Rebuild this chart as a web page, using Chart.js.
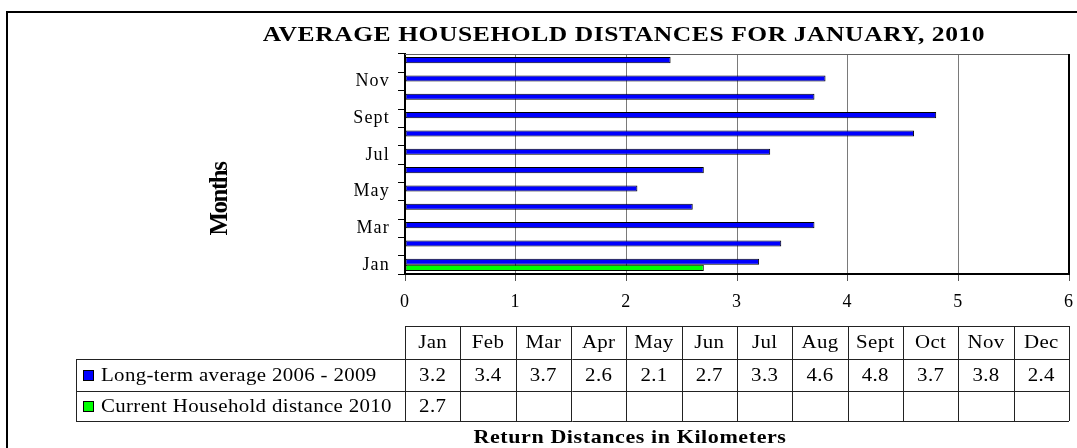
<!DOCTYPE html>
<html>
<head>
<meta charset="utf-8">
<title>Average household distances for January, 2010</title>
<script src="https://cdn.jsdelivr.net/npm/chart.js@4/dist/chart.umd.min.js"></script>
<style>
  html, body { margin: 0; padding: 0; background: #fff; }
  #wrap { width: 1077px; height: 448px; }
</style>
</head>
<body>
<div id="wrap"><canvas id="distChart" width="1077" height="448"></canvas></div>
<script>
// data
var months = ["Jan", "Feb", "Mar", "Apr", "May", "Jun", "Jul", "Aug", "Sept", "Oct", "Nov", "Dec"];
var longTerm = [3.2, 3.4, 3.7, 2.6, 2.1, 2.7, 3.3, 4.6, 4.8, 3.7, 3.8, 2.4];
var current2010 = [2.7, null, null, null, null, null, null, null, null, null, null, null];
var seriesNames = ["Long-term average 2006 - 2009", "Current Household distance 2010"];
var seriesColors = ["#0000ff", "#00ff00"];
var xMin = 0, xMax = 6, xStep = 1;

var chartTitle = "AVERAGE HOUSEHOLD DISTANCES FOR JANUARY, 2010";
var yTitle = "Months";
var xTitle = "Return Distances in Kilometers";

var SERIF = "'Liberation Serif', 'Times New Roman', serif";
var STRETCH = 1.16; // the original text is drawn a bit wide

// text drawn slightly stretched sideways, like the source picture
function wideText(ctx, txt, x, y, spacing) {
  ctx.save();
  ctx.letterSpacing = spacing + "px";
  var w = ctx.measureText(txt).width * STRETCH;
  var left = x;
  if (ctx.textAlign === "center") left = x - w / 2;
  else if (ctx.textAlign === "right") left = x - w;
  ctx.translate(left, y);
  ctx.scale(STRETCH, 1);
  ctx.textAlign = "left";
  ctx.fillText(txt, 0, 0);
  ctx.restore();
}

// frame, titles and the data table under the plot
var decorPlugin = {
  id: "decor",
  beforeDraw: function (chart) {
    chart.ctx.letterSpacing = "1.2px";
  },
  afterDraw: function (chart) {
    var ctx = chart.ctx;
    var area = chart.chartArea;
    ctx.save();
    ctx.letterSpacing = "0px";

    // outer frame
    ctx.strokeStyle = "#000";
    ctx.lineWidth = 2;
    ctx.beginPath();
    ctx.moveTo(7, 448);
    ctx.lineTo(7, 12);
    ctx.lineTo(1077, 12);
    ctx.stroke();

    // plot area top / right edge
    ctx.lineWidth = 1;
    ctx.strokeStyle = "#606060";
    ctx.beginPath();
    ctx.moveTo(area.left, Math.round(area.top) + 0.5);
    ctx.lineTo(area.right, Math.round(area.top) + 0.5);
    ctx.stroke();
    ctx.strokeStyle = "#000";
    ctx.lineWidth = 2;
    ctx.beginPath();
    ctx.moveTo(area.right, area.top);
    ctx.lineTo(area.right, area.bottom);
    ctx.stroke();

    // title
    ctx.fillStyle = "#000";
    ctx.textAlign = "center";
    ctx.textBaseline = "alphabetic";
    ctx.font = "bold 22px " + SERIF;
    wideText(ctx, chartTitle, 624, 41, 0.5);

    // y axis title
    ctx.save();
    ctx.translate(227, 199);
    ctx.rotate(-Math.PI / 2);
    ctx.font = "bold 25px " + SERIF;
    ctx.letterSpacing = "-1.5px";
    ctx.textAlign = "center";
    ctx.fillText(yTitle, 0, 0);
    ctx.restore();

    // data table
    var colW = (area.right - area.left) / months.length;
    var rowY = [326, 359, 391, 421];
    var labelLeft = 76;
    ctx.strokeStyle = "#222";
    ctx.lineWidth = 1;
    ctx.beginPath();
    ctx.moveTo(area.left, rowY[0] + 0.5);
    ctx.lineTo(area.right, rowY[0] + 0.5);
    for (var r = 1; r < rowY.length; r++) {
      ctx.moveTo(labelLeft, rowY[r] + 0.5);
      ctx.lineTo(area.right, rowY[r] + 0.5);
    }
    ctx.moveTo(labelLeft + 0.5, rowY[1]);
    ctx.lineTo(labelLeft + 0.5, rowY[3]);
    for (var c = 0; c <= months.length; c++) {
      var cx = Math.round(area.left + c * colW) + 0.5;
      ctx.moveTo(cx, rowY[0]);
      ctx.lineTo(cx, rowY[3]);
    }
    ctx.stroke();

    ctx.font = "18px " + SERIF;
    ctx.textBaseline = "middle";
    ctx.textAlign = "center";
    var series = [longTerm, current2010];
    for (var i = 0; i < months.length; i++) {
      var mid = area.left + (i + 0.5) * colW;
      wideText(ctx, months[i], mid, (rowY[0] + rowY[1]) / 2 + 1, 0.3);
      for (var s = 0; s < series.length; s++) {
        var v = series[s][i];
        if (v !== null && v !== undefined) {
          wideText(ctx, v.toFixed(1), mid, (rowY[s + 1] + rowY[s + 2]) / 2 + 1, 0.3);
        }
      }
    }

    // legend keys in the table
    ctx.textAlign = "left";
    for (var k = 0; k < seriesNames.length; k++) {
      var cy = (rowY[k + 1] + rowY[k + 2]) / 2;
      ctx.fillStyle = seriesColors[k];
      ctx.fillRect(83, Math.round(cy - 5), 10, 10);
      ctx.strokeStyle = "#000";
      ctx.strokeRect(83.5, Math.round(cy - 5) + 0.5, 10, 10);
      ctx.fillStyle = "#000";
      wideText(ctx, seriesNames[k], 101, cy + 1, 0.3);
    }

    // x axis title
    ctx.textAlign = "center";
    ctx.textBaseline = "alphabetic";
    ctx.font = "bold 19px " + SERIF;
    wideText(ctx, xTitle, 630, 443, 0.5);

    ctx.restore();
  }
};

var ctx = document.getElementById("distChart");

var myBarChart = new Chart(ctx, {
  type: "bar",
  data: {
    labels: months,
    datasets: [
      {
        label: seriesNames[0],
        data: longTerm,
        backgroundColor: seriesColors[0],
        borderColor: "#000",
        borderWidth: 1,
        borderSkipped: false,
      },
      {
        label: seriesNames[1],
        data: current2010,
        backgroundColor: seriesColors[1],
        borderColor: "#000",
        borderWidth: 1,
        borderSkipped: false,
      },
    ],
  },
  options: {
    indexAxis: "y",
    responsive: false,
    animation: false,
    categoryPercentage: 0.66,
    barPercentage: 1.0,
    layout: {
      padding: { left: 345, top: 54, right: 8, bottom: 134 },
    },
    plugins: {
      legend: { display: false },
      title: { display: false },
      tooltip: { enabled: false },
    },
    scales: {
      x: {
        type: "linear",
        min: xMin,
        max: xMax,
        ticks: {
          stepSize: xStep,
          color: "#000",
          padding: 10,
          font: { family: SERIF, size: 18 },
        },
        grid: {
          color: "#7a7a7a",
          lineWidth: 1,
          tickLength: 7,
          tickColor: "#555",
        },
        border: { color: "#000", width: 2 },
        afterFit: function (scale) {
          scale.height = 40;
          scale.paddingLeft = 0;
          scale.paddingRight = 0;
        },
      },
      y: {
        type: "category",
        reverse: true,
        ticks: {
          autoSkip: false,
          color: "#000",
          padding: 8,
          font: { family: SERIF, size: 18 },
          callback: function (value, index) {
            return index % 2 === 0 ? months[index] : "";
          },
        },
        grid: {
          offset: true,
          drawOnChartArea: false,
          tickLength: 7,
          tickColor: "#000",
        },
        border: { color: "#000", width: 2 },
        afterFit: function (scale) {
          scale.width = 60;
          scale.paddingTop = 0;
          scale.paddingBottom = 0;
        },
      },
    },
  },
  plugins: [decorPlugin],
});
</script>
</body>
</html>
